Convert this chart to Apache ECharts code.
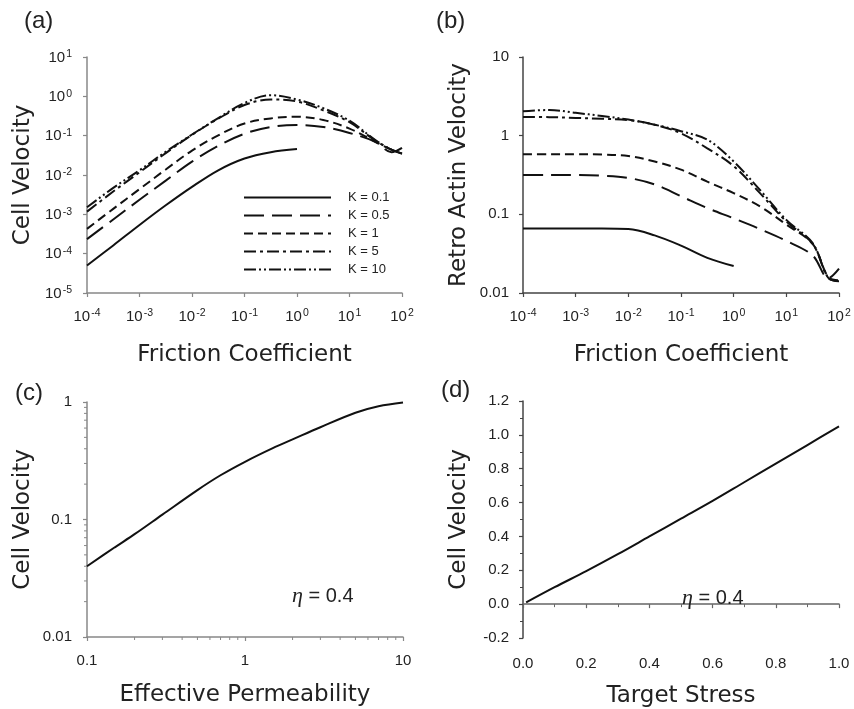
<!DOCTYPE html>
<html><head><meta charset="utf-8">
<script src="https://cdn.jsdelivr.net/npm/echarts@6/dist/echarts.min.js"></script>
<style>html,body{margin:0;padding:0;background:#fff}#c{width:854px;height:709px}</style>
</head><body><div id="c"></div>
<script>
// ---------- data ----------
const frictionX = [0.0001, 0.000316, 0.001, 0.00316, 0.01, 0.0316, 0.1, 0.316, 1, 3.16, 10, 31.6, 63, 100];
const kLabels = ['K = 0.1', 'K = 0.5', 'K = 1', 'K = 5', 'K = 10'];

// (a) Cell velocity vs friction coefficient
const cellK01 = [5.0e-5, 1.62e-4, 5.37e-4, 1.70e-3, 5.0e-3, 0.0132, 0.0263, 0.038, 0.0457];
const cellK05 = [2.34e-4, 7.4e-4, 2.34e-3, 7.2e-3, 0.0219, 0.055, 0.112, 0.166, 0.186, 0.166, 0.117, 0.069, 0.038, 0.049];
const cellK1  = [4.27e-4, 1.38e-3, 4.37e-3, 0.0138, 0.0417, 0.102, 0.204, 0.275, 0.302, 0.251, 0.151, 0.069, 0.044, 0.035];
const cellK5  = [1.17e-3, 3.8e-3, 0.0117, 0.036, 0.105, 0.27, 0.60, 0.83, 0.74, 0.44, 0.22, 0.074, 0.044, 0.035];
const cellK10 = [1.51e-3, 4.7e-3, 0.0132, 0.039, 0.107, 0.28, 0.68, 1.07, 0.83, 0.50, 0.24, 0.076, 0.044, 0.035];

// (b) Retro actin velocity vs friction coefficient
const retroK01 = [0.066, 0.066, 0.066, 0.066, 0.065, 0.054, 0.040, 0.028, 0.022];
const retroK05 = [0.316, 0.316, 0.316, 0.31, 0.29, 0.24, 0.17, 0.12, 0.089, 0.065, 0.046, 0.030, 0.0155, 0.0204];
const retroK1  = [0.58, 0.58, 0.58, 0.575, 0.55, 0.47, 0.37, 0.26, 0.186, 0.126, 0.074, 0.042, 0.0158, 0.0145];
const retroK5  = [1.73, 1.72, 1.68, 1.64, 1.58, 1.38, 1.07, 0.69, 0.41, 0.186, 0.081, 0.042, 0.0155, 0.0141];
const retroK10 = [2.04, 2.12, 1.95, 1.78, 1.60, 1.38, 1.14, 0.89, 0.47, 0.204, 0.085, 0.043, 0.0155, 0.0141];

// (c) Cell velocity vs effective permeability
const permX   = [0.1, 0.15, 0.2, 0.3, 0.5, 0.7, 1, 1.5, 2, 3, 5, 7, 10];
const permVel = [0.040, 0.058, 0.075, 0.110, 0.178, 0.238, 0.31, 0.405, 0.48, 0.61, 0.81, 0.92, 0.99];
// minor (log) tick values of panel (c)
const permMinorX = [0.2, 0.3, 0.4, 0.5, 0.6, 0.7, 0.8, 0.9, 2, 3, 4, 5, 6, 7, 8, 9];
const velMinorY  = [0.02, 0.03, 0.04, 0.05, 0.06, 0.07, 0.08, 0.09, 0.2, 0.3, 0.4, 0.5, 0.6, 0.7, 0.8, 0.9];

// (d) Cell velocity vs target stress
const stressX   = [0.01, 0.1, 0.2, 0.3, 0.4, 0.5, 0.6, 0.7, 0.8, 0.9, 1.0];
const stressVel = [0.01, 0.10, 0.195, 0.295, 0.40, 0.505, 0.61, 0.72, 0.83, 0.94, 1.05];

const panelLabels = ['(a)', '(b)', '(c)', '(d)'];
const etaText = ' = 0.4';

// ---------- styling ----------
const FONT = "'Liberation Sans', Arial, sans-serif";
const NAMEFONT = "'DejaVu Sans', 'Liberation Sans', sans-serif";
const INK = '#111';
const dashes = ['solid', [20, 8], [9, 5], [12, 4, 3, 4], [12, 3, 2, 3, 2, 3]];

function pairs(xs, ys) { return ys.map((y, i) => [xs[i], y]); }
function pow10(v) { const e = Math.round(Math.log10(v)); return '{b|10}{s|' + e + '}'; }
function plainLog(v) {
  const e = Math.round(Math.log10(v));
  if (e >= 0) return String(Math.pow(10, e));
  return '0.' + '0'.repeat(-e - 1) + '1';
}
const supRich = {
  b: { fontSize: 15, fontFamily: FONT, color: '#222', lineHeight: 16, verticalAlign: 'bottom' },
  s: { fontSize: 10.5, fontFamily: FONT, color: '#222', lineHeight: 12, verticalAlign: 'top', padding: [0, 0, 0, 1] }
};

function axisCommon(color) {
  return {
    axisLine: { show: true, lineStyle: { color: color, width: 1.5 } },
    axisTick: { show: true, inside: false, length: 4, lineStyle: { color: color, width: 1.2 } },
    splitLine: { show: false },
    nameTextStyle: { fontSize: 23, fontFamily: NAMEFONT, color: '#222' }
  };
}

const grids = [
  { left: 87, top: 57, width: 315, height: 236 },
  { left: 523, top: 57, width: 316, height: 236 },
  { left: 87, top: 402, width: 316, height: 235 },
  { left: 523, top: 401, width: 316, height: 237 }
];

const plainLabel = (fmt, margin) => ({ formatter: fmt, fontSize: 15, fontFamily: FONT, color: '#222', margin: margin });

const xAxes = [
  Object.assign(axisCommon('#888'), {
    gridIndex: 0, type: 'log', logBase: 10, min: 0.0001, max: 100,
    name: 'Friction Coefficient', nameLocation: 'middle', nameGap: 51,
    axisLabel: { formatter: pow10, rich: supRich, margin: 15 }
  }),
  Object.assign(axisCommon('#444'), {
    gridIndex: 1, type: 'log', logBase: 10, min: 0.0001, max: 100,
    name: 'Friction Coefficient', nameLocation: 'middle', nameGap: 51,
    axisLabel: { formatter: pow10, rich: supRich, margin: 15 }
  }),
  Object.assign(axisCommon('#888'), {
    gridIndex: 2, type: 'log', logBase: 10, min: 0.1, max: 10,
    name: 'Effective Permeability', nameLocation: 'middle', nameGap: 47,
    axisLabel: plainLabel(plainLog, 16)
  }),
  Object.assign(axisCommon('#666'), {
    gridIndex: 3, type: 'value', min: 0, max: 1, interval: 0.2,
    name: 'Target Stress', nameLocation: 'middle', nameGap: 47,
    minorTick: { show: true, splitNumber: 2, length: 3, lineStyle: { color: '#666' } },
    axisLabel: plainLabel(v => v.toFixed(1), 18)
  })
];

const yAxes = [
  Object.assign(axisCommon('#888'), {
    gridIndex: 0, type: 'log', logBase: 10, min: 0.00001, max: 10,
    name: 'Cell Velocity', nameLocation: 'middle', nameGap: 52, nameRotate: 90,
    axisLabel: { formatter: pow10, rich: supRich, margin: 15 }
  }),
  Object.assign(axisCommon('#444'), {
    gridIndex: 1, type: 'log', logBase: 10, min: 0.01, max: 10,
    name: 'Retro Actin Velocity', nameLocation: 'middle', nameGap: 52, nameRotate: 90,
    axisLabel: plainLabel(plainLog, 14)
  }),
  Object.assign(axisCommon('#888'), {
    gridIndex: 2, type: 'log', logBase: 10, min: 0.01, max: 1,
    name: 'Cell Velocity', nameLocation: 'middle', nameGap: 52, nameRotate: 90,
    axisLabel: plainLabel(plainLog, 15)
  }),
  Object.assign(axisCommon('#444'), {
    gridIndex: 3, type: 'value', min: -0.2, max: 1.2, interval: 0.2,
    name: 'Cell Velocity', nameLocation: 'middle', nameGap: 52, nameRotate: 90,
    minorTick: { show: true, splitNumber: 2, length: 3, lineStyle: { color: '#444' } },
    axisLabel: plainLabel(v => v.toFixed(1), 14)
  })
];

function lineSeries(name, xi, xs, ys, k) {
  return {
    name: name, type: 'line', xAxisIndex: xi, yAxisIndex: xi,
    data: pairs(xs, ys), smooth: 0.35, symbol: 'none', showSymbol: false,
    lineStyle: { color: INK, width: 2, type: dashes[k] },
    itemStyle: { color: INK }, silent: true, animation: false
  };
}

// log-spaced minor ticks for panel (c), placed through the axes' own scales
function minorTickSeries(values, isX) {
  return {
    type: 'custom', xAxisIndex: 2, yAxisIndex: 2, clip: false, silent: true, animation: false,
    data: values.map(v => isX ? [v, 0.01] : [0.1, v]),
    renderItem: function (params, api) {
      const p = api.coord([api.value(0), api.value(1)]);
      const shape = isX ? { x1: p[0], y1: p[1], x2: p[0], y2: p[1] + 3 }
                        : { x1: p[0] - 3, y1: p[1], x2: p[0], y2: p[1] };
      return { type: 'line', shape: shape, style: { stroke: '#888', lineWidth: 1 } };
    }
  };
}

const cellSets = [cellK01, cellK05, cellK1, cellK5, cellK10];
const retroSets = [retroK01, retroK05, retroK1, retroK5, retroK10];
const series = [];
cellSets.forEach((d, k) => series.push(lineSeries(kLabels[k], 0, frictionX, d, k)));
retroSets.forEach((d, k) => series.push(lineSeries(kLabels[k], 1, frictionX, d, k)));
series.push(lineSeries('permeability', 2, permX, permVel, 0));
series.push(lineSeries('stress', 3, stressX, stressVel, 0));
series.push(minorTickSeries(permMinorX, true));
series.push(minorTickSeries(velMinorY, false));

const etaRich = {
  e: { fontFamily: "'Liberation Serif', 'DejaVu Serif', serif", fontStyle: 'italic', fontWeight: 'normal', fontSize: 22, color: '#222' },
  t: { fontFamily: FONT, fontWeight: 'normal', fontSize: 20, color: '#222' }
};

const titleStyle = { fontSize: 24, fontWeight: 'normal', fontFamily: FONT, color: '#222' };
const option = {
  animation: false,
  backgroundColor: '#fff',
  title: [
    { text: panelLabels[0], left: 19, top: 4, textStyle: titleStyle },
    { text: panelLabels[1], left: 431, top: 4, textStyle: titleStyle },
    { text: panelLabels[2], left: 10, top: 376, textStyle: titleStyle },
    { text: panelLabels[3], left: 436, top: 373, textStyle: titleStyle },
    { text: '{e|η}{t|' + etaText + '}', left: 287, top: 580, textStyle: { fontWeight: 'normal', rich: etaRich } },
    { text: '{e|η}{t|' + etaText + '}', left: 677, top: 582, textStyle: { fontWeight: 'normal', rich: etaRich } }
  ],
  legend: {
    data: kLabels, orient: 'vertical', left: 238, top: 186,
    itemWidth: 87, itemHeight: 12, itemGap: 5,
    itemStyle: { opacity: 0 },
    textStyle: { fontSize: 13, fontFamily: FONT, color: '#222', padding: [0, 0, 0, 12] },
    selectedMode: false
  },
  grid: grids,
  xAxis: xAxes,
  yAxis: yAxes,
  series: series
};

const chart = echarts.init(document.getElementById('c'), null, { renderer: 'canvas' });
chart.setOption(option);
</script>
</body></html>
